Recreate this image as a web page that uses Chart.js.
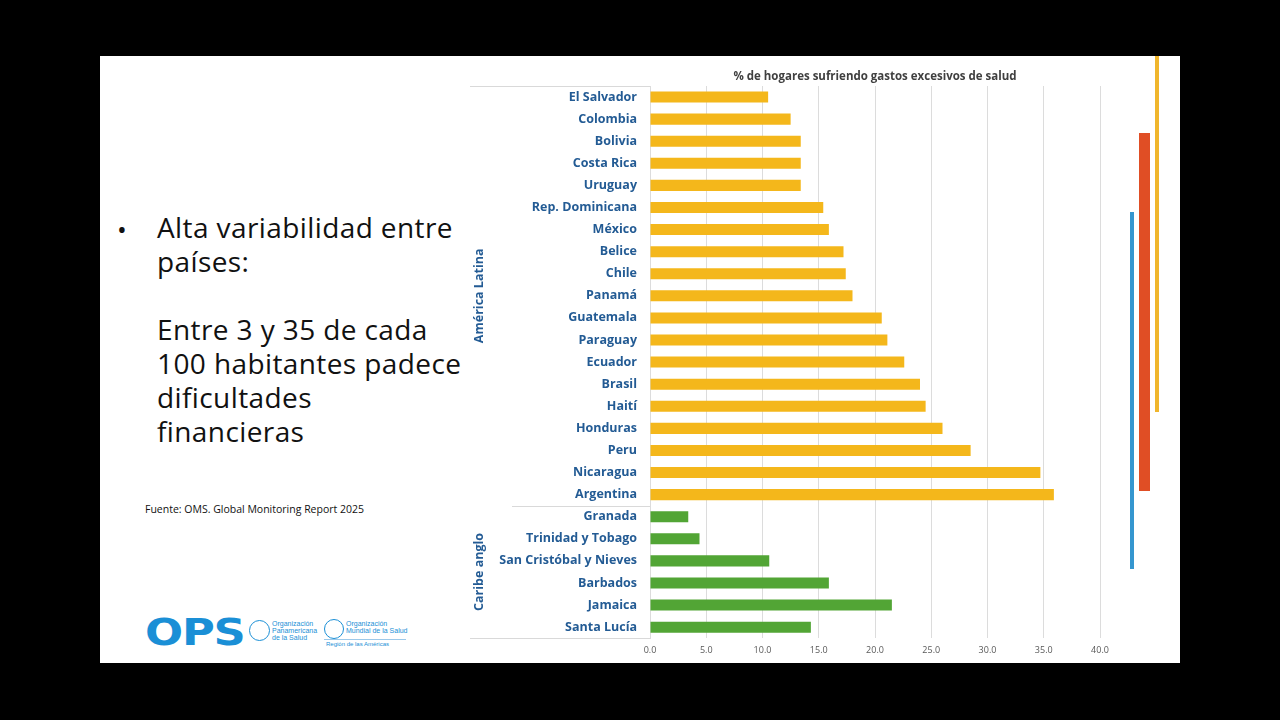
<!DOCTYPE html>
<html>
<head>
<meta charset="utf-8">
<script src="https://cdn.jsdelivr.net/npm/chart.js@4.4.1/dist/chart.umd.min.js"></script>
<style>
  html, body { margin: 0; padding: 0; background: #000; }
  body { width: 1280px; height: 720px; position: relative; overflow: hidden; font-family: "Liberation Sans", Arial, sans-serif; }
  #slide { position: absolute; left: 100px; top: 56px; width: 1080px; height: 607px; background: #fff; }
  #chartBox { position: absolute; left: 470px; top: 64px; width: 650px; height: 603px; }
  .bullet { position: absolute; left: 117px; top: 211px; font-family: "Open Sans", sans-serif; font-size: 26px; color: #111; }
  .lead { position: absolute; left: 157px; top: 210px; font-family: "Open Sans", sans-serif; font-size: 28px; letter-spacing: 0.4px; line-height: 34px; color: #111; }
  .source { position: absolute; left: 145px; top: 502px; font-family: "Open Sans", sans-serif; font-size: 10.5px; color: #111; }
  .deco { position: absolute; }
  .logo { position: absolute; left: 145px; top: 612px; font-family: "DejaVu Sans", sans-serif; font-weight: bold; font-size: 38px; color: #1a8fd6; letter-spacing: -1px; transform: scaleX(1.18); transform-origin: left top; line-height: 40px; }
  .org { position: absolute; font-size: 7px; line-height: 7px; color: #1a8fd6; }
  .globe { position: absolute; border: 1.5px solid #1a8fd6; border-radius: 50%; }
</style>
</head>
<body>
<div id="slide"></div>

<div class="bullet">•</div>
<div class="lead">Alta variabilidad entre<br>países:<br><br>Entre 3 y 35 de cada<br>100 habitantes padece<br>dificultades<br>financieras</div>
<div class="source">Fuente: OMS. Global Monitoring Report 2025</div>

<div class="logo">OPS</div>
<div class="globe" style="left:249px;top:620px;width:19px;height:19px;"></div>
<div class="org" style="left:272px;top:620px;">Organización<br>Panamericana<br>de la Salud</div>
<div class="globe" style="left:324px;top:619px;width:18px;height:18px;"></div>
<div class="org" style="left:346px;top:620px;">Organización<br>Mundial de la Salud</div>
<div style="position:absolute;left:324px;top:639px;width:82px;height:1px;background:#9cc9ea;"></div>
<div class="org" style="left:326px;top:641px;font-size:6px;">Región de las Américas</div>

<div class="deco" style="left:1155px;top:56px;width:4px;height:356px;background:#f0b62d;"></div>
<div class="deco" style="left:1139px;top:133px;width:11px;height:358px;background:#e04e25;"></div>
<div class="deco" style="left:1130px;top:212px;width:4px;height:357px;background:#3596cf;"></div>

<div id="chartBox"><canvas id="chart" width="650" height="603"></canvas></div>

<script>
// ===============================
// Data
// ===============================
const latamCountries = [
    "El Salvador", "Colombia", "Bolivia", "Costa Rica", "Uruguay",
    "Rep. Dominicana", "México", "Belice", "Chile", "Panamá",
    "Guatemala", "Paraguay", "Ecuador", "Brasil", "Haití",
    "Honduras", "Peru", "Nicaragua", "Argentina"
];
const latamValues = [
    10.5, 12.5, 13.4, 13.4, 13.4,
    15.4, 15.9, 17.2, 17.4, 18.0,
    20.6, 21.1, 22.6, 24.0, 24.5,
    26.0, 28.5, 34.7, 35.9
];
const caribeCountries = [
    "Granada", "Trinidad y Tobago", "San Cristóbal y Nieves",
    "Barbados", "Jamaica", "Santa Lucía"
];
const caribeValues = [3.4, 4.4, 10.6, 15.9, 21.5, 14.3];
const groupNames = ["América Latina", "Caribe anglo"];
const xTicks = [0, 5, 10, 15, 20, 25, 30, 35, 40];
const chartTitle = "% de hogares sufriendo gastos excesivos de salud";

const YELLOW = "#f4b71b";
const GREEN = "#52a535";
const LABEL_BLUE = "#235b94";

const labels = latamCountries.concat(caribeCountries);
const values = latamValues.concat(caribeValues);
const colors = latamCountries.map(() => YELLOW).concat(caribeCountries.map(() => GREEN));

// ===============================
// Group separators, group labels and title
// ===============================
const groupPlugin = {
    id: "groups",
    afterDraw(chart) {
        const ctx = chart.ctx;
        const area = chart.chartArea;
        const y = chart.scales.y;
        const step = y.getPixelForValue(1) - y.getPixelForValue(0);
        const split = y.getPixelForValue(latamCountries.length - 1) + step / 2;

        ctx.save();
        ctx.strokeStyle = "#d9d9d9";
        ctx.lineWidth = 1;
        ctx.beginPath();
        ctx.moveTo(0, Math.round(area.top) + 0.5);
        ctx.lineTo(area.left, Math.round(area.top) + 0.5);
        ctx.moveTo(0, Math.round(area.bottom) + 0.5);
        ctx.lineTo(area.left, Math.round(area.bottom) + 0.5);
        ctx.moveTo(42, Math.round(split) + 0.5);
        ctx.lineTo(area.left, Math.round(split) + 0.5);
        ctx.stroke();

        ctx.fillStyle = LABEL_BLUE;
        ctx.font = "bold 12.5px 'Open Sans'";
        ctx.textAlign = "center";
        ctx.textBaseline = "middle";
        const mids = [(area.top + split) / 2, (split + area.bottom) / 2];
        mids.forEach((m, i) => {
            ctx.save();
            ctx.translate(9, m);
            ctx.rotate(-Math.PI / 2);
            ctx.fillText(groupNames[i], 0, 0);
            ctx.restore();
        });

        ctx.fillStyle = "#404040";
        ctx.font = "bold 11.5px 'Open Sans'";
        ctx.fillText(chartTitle, (area.left + area.right) / 2, 13);
        ctx.restore();
    }
};

// ===============================
// Chart
// ===============================
const ctx = document.getElementById("chart").getContext("2d");
new Chart(ctx, {
    type: "bar",
    data: {
        labels: labels,
        datasets: [{
            data: values,
            backgroundColor: colors,
            categoryPercentage: 1,
            barPercentage: 0.5
        }]
    },
    options: {
        indexAxis: "y",
        responsive: false,
        animation: false,
        devicePixelRatio: 1,
        layout: { padding: { top: 22, right: 20, bottom: 4, left: 0 } },
        plugins: {
            legend: { display: false },
            tooltip: { enabled: false },
            title: { display: false }
        },
        scales: {
            x: {
                min: 0,
                max: 40,
                afterBuildTicks(scale) {
                    scale.ticks = xTicks.map(v => ({ value: v }));
                },
                grid: { color: "#dcdcdc", drawTicks: false },
                border: { display: false },
                ticks: {
                    padding: 7,
                    color: "#595959",
                    font: { size: 9, family: "'Open Sans'" },
                    callback: v => Number(v).toFixed(1)
                }
            },
            y: {
                afterFit(scale) { scale.width = 180; },
                grid: { display: false, drawTicks: false },
                border: { display: true, color: "#dcdcdc" },
                ticks: {
                    padding: 13,
                    color: LABEL_BLUE,
                    font: { size: 12.5, weight: "bold", family: "'Open Sans'" },
                    autoSkip: false
                }
            }
        }
    },
    plugins: [groupPlugin]
});
</script>
</body>
</html>
